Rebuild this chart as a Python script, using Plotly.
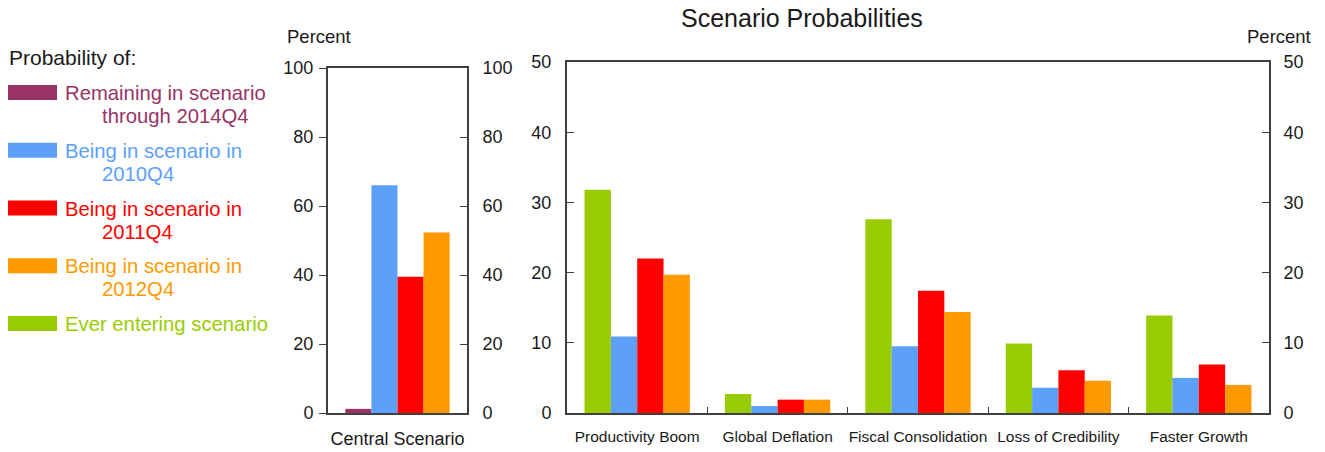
import plotly.graph_objects as go

W, H = 1325, 452

# data
central_label = ["Central Scenario"]
central_remaining = [1.2]
central_2010 = [66]
central_2011 = [39.5]
central_2012 = [52.3]

scenarios = ["Productivity Boom", "Global Deflation", "Fiscal Consolidation",
             "Loss of Credibility", "Faster Growth"]
ever_entering = [31.8, 2.7, 27.6, 9.9, 13.9]
in_2010 = [10.9, 1.0, 9.5, 3.6, 5.0]
in_2011 = [22.0, 1.9, 17.4, 6.1, 6.9]
in_2012 = [19.7, 1.9, 14.4, 4.6, 4.0]

legend_labels = [
    ("Remaining in scenario", "through 2014Q4"),
    ("Being in scenario in", "2010Q4"),
    ("Being in scenario in", "2011Q4"),
    ("Being in scenario in", "2012Q4"),
    ("Ever entering scenario", None),
]
colors = ["#993366", "#5CA0FA", "#FF0000", "#FF9900", "#99CC00"]

FONT = "Liberation Sans, Arial, sans-serif"
AXC = "#404040"
TXT = "#1a1a1a"


def px(x):
    return x / W


def py(y):
    return 1 - y / H


fig = go.Figure()

# left panel
fig.add_trace(go.Bar(x=central_label, y=central_remaining, marker_color=colors[0],
                     xaxis="x", yaxis="y"))
# right panel
fig.add_trace(go.Bar(x=scenarios, y=ever_entering, marker_color=colors[4],
                     xaxis="x2", yaxis="y2"))
for vals_c, vals_s, c in [(central_2010, in_2010, colors[1]),
                          (central_2011, in_2011, colors[2]),
                          (central_2012, in_2012, colors[3])]:
    fig.add_trace(go.Bar(x=central_label, y=vals_c, marker_color=c, xaxis="x", yaxis="y"))
    fig.add_trace(go.Bar(x=scenarios, y=vals_s, marker_color=c, xaxis="x2", yaxis="y2"))

# invisible helpers so the right-hand axes get drawn
fig.add_trace(go.Scatter(x=central_label, y=central_remaining, mode="markers",
                         marker_opacity=0, xaxis="x", yaxis="y3", hoverinfo="skip"))
fig.add_trace(go.Scatter(x=scenarios, y=ever_entering, mode="markers",
                         marker_opacity=0, xaxis="x2", yaxis="y4", hoverinfo="skip"))

fig.update_traces(showlegend=False)
fig.update_traces(marker_line_width=0, selector=dict(type="bar"))

ycommon = dict(showgrid=False, zeroline=False, showline=True, linecolor=AXC, linewidth=2,
               tickcolor=AXC, ticklen=7, tickfont=dict(size=18, color=TXT),
               automargin=False, fixedrange=True)

fig.update_layout(
    width=W, height=H,
    margin=dict(l=0, r=0, t=0, b=0, pad=0),
    plot_bgcolor="white", paper_bgcolor="white",
    font=dict(family=FONT, color=TXT),
    barmode="group", bargap=0.25, bargroupgap=0,
    showlegend=False,
    xaxis=dict(domain=[px(328), px(467)], anchor="y", showline=True, mirror=True,
               linecolor=AXC, linewidth=2, ticks="", showgrid=False, automargin=False,
               tickangle=0, tickfont=dict(size=18, color=TXT), ticklabelstandoff=8),
    yaxis=dict(domain=[py(413), py(68)], range=[0, 100], tickvals=[0, 20, 40, 60, 80, 100],
               ticks="outside", side="left", anchor="x", ticklabelstandoff=2, **ycommon),
    yaxis3=dict(domain=[py(413), py(68)], range=[0, 100], tickvals=[0, 20, 40, 60, 80, 100],
                ticks="inside", side="right", overlaying="y", anchor="x",
                ticklabelstandoff=10, **ycommon),
    xaxis2=dict(domain=[px(567), px(1269)], anchor="y2", showline=True, mirror=True,
                linecolor=AXC, linewidth=2, ticks="inside", tickson="boundaries",
                ticklen=6, tickcolor=AXC, showgrid=False, automargin=False,
                tickangle=0, tickfont=dict(size=15.5, color=TXT), ticklabelstandoff=8),
    yaxis2=dict(domain=[py(413), py(62)], range=[0, 50], tickvals=[0, 10, 20, 30, 40, 50],
                ticks="inside", side="left", anchor="x2", ticklabelstandoff=10, **ycommon),
    yaxis4=dict(domain=[py(413), py(62)], range=[0, 50], tickvals=[0, 10, 20, 30, 40, 50],
                ticks="inside", side="right", overlaying="y2", anchor="x2",
                ticklabelstandoff=9, **ycommon),
)

ann = [
    dict(text="Scenario Probabilities", x=px(802), y=py(18), font=dict(size=25)),
    dict(text="Percent", x=px(319), y=py(37), font=dict(size=18.5)),
    dict(text="Percent", x=px(1279), y=py(37), font=dict(size=18.5)),
    dict(text="Probability of:", x=px(8), y=py(57), xanchor="left", font=dict(size=21)),
]

shapes = []
for i, ((l1, l2), c) in enumerate(zip(legend_labels, colors)):
    top = 85 + i * 57.75
    shapes.append(dict(type="rect", xref="paper", yref="paper", x0=px(8), x1=px(57),
                       y0=py(top + 15), y1=py(top), fillcolor=c, line_width=0))
    ann.append(dict(text=l1, x=px(64), y=py(top + 8), xanchor="left",
                    font=dict(size=20.3, color=c)))
    if l2:
        ann.append(dict(text=l2, x=px(101), y=py(top + 31), xanchor="left",
                        font=dict(size=20.3, color=c)))

for a in ann:
    a.setdefault("xanchor", "center")
    fig.add_annotation(xref="paper", yref="paper", yanchor="middle", showarrow=False,
                       borderpad=0, **a)

fig.update_layout(shapes=shapes)

# drop the browser's default 8px body margin so the figure fills the window
fig.write_html("out.html", config={"displayModeBar": False},
               post_script="document.body.style.margin = '0';")
